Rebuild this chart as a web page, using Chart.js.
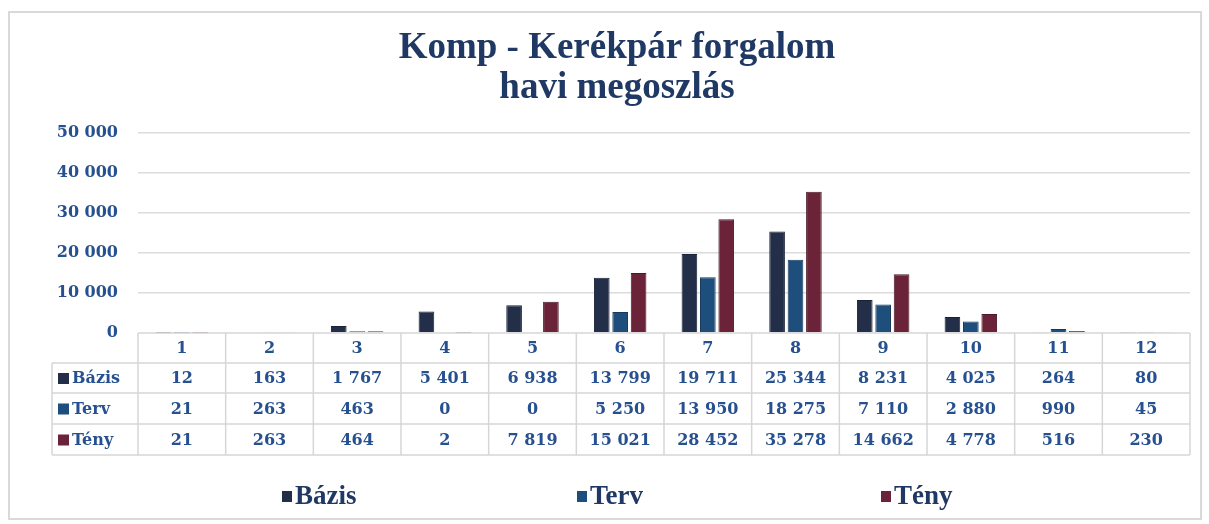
<!DOCTYPE html>
<html>
<head>
<meta charset="utf-8">
<script src="https://cdn.jsdelivr.net/npm/chart.js@4.4.1/dist/chart.umd.min.js"></script>
<style>
html,body{margin:0;padding:0;background:#fff;}
#wrap{width:1209px;height:524px;position:relative;}
</style>
</head>
<body>
<div id="wrap"><canvas id="c" width="1209" height="524"></canvas></div>
<script>
const categories = ['1','2','3','4','5','6','7','8','9','10','11','12'];
const bazis = [12,163,1767,5401,6938,13799,19711,25344,8231,4025,264,80];
const terv  = [21,263,463,0,0,5250,13950,18275,7110,2880,990,45];
const teny  = [21,263,464,2,7819,15021,28452,35278,14662,4778,516,230];
const seriesNames = ['Bázis','Terv','Tény'];
const yTicks = [0,10000,20000,30000,40000,50000];

const fmt = v => String(v).replace(/\B(?=(\d{3})+(?!\d))/g, ' ');
const TXT = '#26508f';
const TABLE_FONT = 'bold 16px "DejaVu Serif"';

const tablePlugin = {
  id: 'dataTable',
  beforeDraw(chart) {
    const ctx = chart.ctx;
    ctx.save();
    ctx.strokeStyle = '#d9d9d9';
    ctx.lineWidth = 2;
    ctx.strokeRect(9, 12, 1192, 507);
    ctx.restore();
  },
  afterDraw(chart) {
    const ctx = chart.ctx;
    const x = chart.scales.x;
    const area = chart.chartArea;
    const n = categories.length;
    const cw = (area.right - area.left) / n;
    const top = area.bottom;
    const rowH = [30, 30, 31, 31];
    const labelLeft = 52;
    const ys = [top];
    rowH.forEach(h => ys.push(ys[ys.length - 1] + h));
    ctx.save();
    ctx.strokeStyle = '#d6d6d6';
    ctx.lineWidth = 1.5;
    ctx.beginPath();
    ctx.moveTo(area.left, ys[0]); ctx.lineTo(area.right, ys[0]);
    for (let r = 1; r < ys.length; r++) {
      ctx.moveTo(labelLeft, ys[r]); ctx.lineTo(area.right, ys[r]);
    }
    ctx.moveTo(labelLeft, ys[1]); ctx.lineTo(labelLeft, ys[ys.length - 1]);
    for (let i = 0; i <= n; i++) {
      const px = area.left + i * cw;
      ctx.moveTo(px, ys[0]); ctx.lineTo(px, ys[ys.length - 1]);
    }
    ctx.stroke();

    ctx.fillStyle = TXT;
    ctx.font = TABLE_FONT;
    ctx.textAlign = 'center';
    ctx.textBaseline = 'middle';
    categories.forEach((c, i) => {
      ctx.fillText(c, x.getPixelForValue(i), (ys[0] + ys[1]) / 2 + 1);
    });
    chart.data.datasets.forEach((ds, r) => {
      const cy = (ys[r + 1] + ys[r + 2]) / 2 + 1;
      ds.data.forEach((v, i) => {
        ctx.fillStyle = TXT;
        ctx.fillText(fmt(v), x.getPixelForValue(i), cy);
      });
      ctx.fillStyle = ds.backgroundColor;
      ctx.fillRect(58, cy - 6, 11, 11);
      ctx.fillStyle = TXT;
      ctx.textAlign = 'left';
      ctx.fillText(ds.label, 72, cy);
      ctx.textAlign = 'center';
    });

    const starts = [282, 577, 881];
    ctx.font = 'bold 27px "Liberation Serif"';
    ctx.textAlign = 'left';
    chart.data.datasets.forEach((ds, i) => {
      ctx.fillStyle = ds.backgroundColor;
      ctx.fillRect(starts[i], 491, 10, 11);
      ctx.fillStyle = '#1f3864';
      ctx.fillText(ds.label, starts[i] + 13, 497);
    });
    ctx.restore();
  }
};

new Chart(document.getElementById('c'), {
  type: 'bar',
  data: {
    labels: categories,
    datasets: [
      { label: seriesNames[0], data: bazis, backgroundColor: '#232e48', borderColor: '#1a2236', borderWidth: 1 },
      { label: seriesNames[1], data: terv, backgroundColor: '#1e4e7c', borderColor: '#173a5c', borderWidth: 1 },
      { label: seriesNames[2], data: teny, backgroundColor: '#6a2338', borderColor: '#4c1827', borderWidth: 1 }
    ]
  },
  options: {
    responsive: false,
    animation: false,
    devicePixelRatio: 1,
    categoryPercentage: 0.63,
    barPercentage: 0.85,
    layout: { padding: { left: 44, right: 19, top: 0, bottom: 191 } },
    plugins: {
      legend: { display: false },
      tooltip: { enabled: false },
      title: {
        display: true,
        text: ['Komp - Kerékpár forgalom', 'havi megoszlás'],
        color: '#1f3864',
        font: { family: 'Liberation Serif', size: 37, weight: 'bold', lineHeight: 1.08 },
        padding: { top: 28, bottom: 25 }
      }
    },
    scales: {
      x: { display: false },
      y: {
        min: 0, max: 50000,
        afterFit(s) { s.width = 94; },
        afterBuildTicks(s) { s.ticks = yTicks.map(v => ({ value: v })); },
        border: { display: false },
        grid: { color: ctx => ctx.tick && ctx.tick.value === 0 ? 'rgba(0,0,0,0)' : '#dcdcdc', lineWidth: 1.5, drawTicks: false },
        ticks: {
          padding: 20,
          color: TXT,
          font: { family: 'DejaVu Serif', size: 16, weight: 'bold' },
          callback: v => fmt(v)
        }
      }
    }
  },
  plugins: [tablePlugin]
});
</script>
</body>
</html>
